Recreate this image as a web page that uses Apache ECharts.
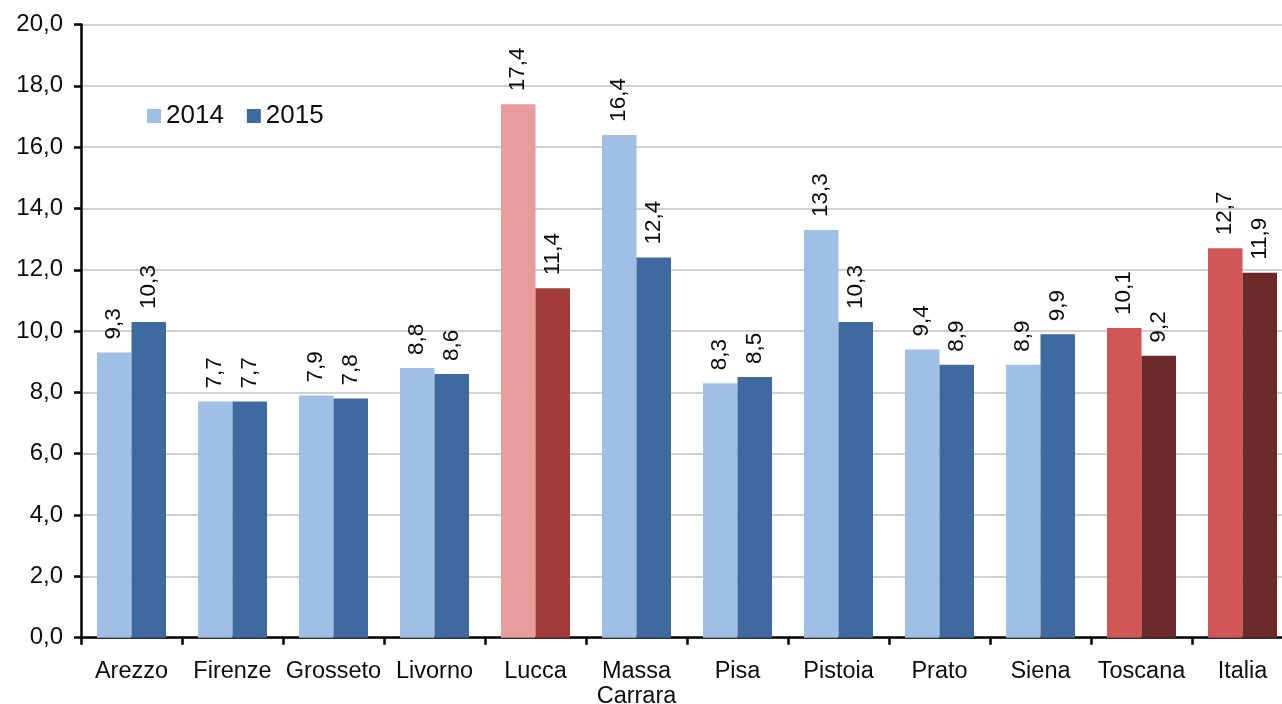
<!DOCTYPE html>
<html>
<head>
<meta charset="utf-8">
<script src="https://cdn.jsdelivr.net/npm/echarts@6/dist/echarts.min.js"></script>
<style>
html,body{margin:0;padding:0;background:#fff;overflow:hidden;}
#c{width:1310px;height:704px;}
</style>
</head>
<body>
<div id="c"></div>
<script>
const categories = ['Arezzo','Firenze','Grosseto','Livorno','Lucca','Massa\nCarrara','Pisa','Pistoia','Prato','Siena','Toscana','Italia'];
const values2014 = [9.3, 7.7, 7.9, 8.8, 17.4, 16.4, 8.3, 13.3, 9.4, 8.9, 10.1, 12.7];
const values2015 = [10.3, 7.7, 7.8, 8.6, 11.4, 12.4, 8.5, 10.3, 8.9, 9.9, 9.2, 11.9];
const seriesNames = ['2014', '2015'];
const yTicks = [0, 2, 4, 6, 8, 10, 12, 14, 16, 18, 20];

const baseColors = ['#A0BFE5', '#3E6A9F'];
const specialColors = {
  'Lucca': ['#E89C9B', '#A23C3A'],
  'Toscana': ['#D05755', '#6B292A'],
  'Italia': ['#D05755', '#6B292A']
};
const FONT = "'Liberation Sans', Arial, sans-serif";
const fmt = v => v.toFixed(1).replace('.', ',');

function buildData(vals, idx) {
  return vals.map((v, i) => {
    const c = specialColors[categories[i]];
    return c ? { value: v, itemStyle: { color: c[idx] } } : v;
  });
}

const chart = echarts.init(document.getElementById('c'), null, { renderer: 'canvas' });
const labelCfg = {
  show: true,
  position: 'top',
  rotate: 90,
  align: 'left',
  verticalAlign: 'middle',
  distance: 13,
  fontFamily: FONT,
  fontSize: 22.5,
  color: '#0d0d0d',
  formatter: p => fmt(p.value)
};
chart.setOption({
  animation: false,
  backgroundColor: '#fff',
  legend: {
    data: seriesNames,
    left: 147,
    top: 103,
    padding: 0,
    itemWidth: 14,
    itemHeight: 14,
    itemGap: 23,
    icon: 'rect',
    textStyle: { fontFamily: FONT, fontSize: 26, color: '#0d0d0d' }
  },
  grid: { left: 81, top: 24.5, width: 1212, height: 613.2, containLabel: false, outerBoundsMode: 'none' },
  xAxis: {
    type: 'category',
    data: categories,
    axisLine: { lineStyle: { color: '#000', width: 2.5 } },
    axisTick: { show: true, length: 7, lineStyle: { color: '#000', width: 2.5 } },
    axisLabel: { interval: 0, fontFamily: FONT, fontSize: 23.5, color: '#0d0d0d', margin: 21, lineHeight: 25 }
  },
  yAxis: {
    type: 'value',
    min: yTicks[0],
    max: yTicks[yTicks.length - 1],
    interval: 2,
    axisLine: { show: true, lineStyle: { color: '#000', width: 2.5 } },
    axisTick: { show: true, length: 7, lineStyle: { color: '#000', width: 2.5 } },
    splitLine: { lineStyle: { color: '#C2C2C2', width: 1.5 } },
    axisLabel: { fontFamily: FONT, fontSize: 24, color: '#0d0d0d', margin: 18, formatter: v => fmt(v) }
  },
  series: [
    {
      name: seriesNames[0], type: 'bar', barWidth: 34.5, barGap: '0%',
      itemStyle: { color: baseColors[0] },
      label: labelCfg,
      data: buildData(values2014, 0)
    },
    {
      name: seriesNames[1], type: 'bar', barWidth: 34.5, barGap: '0%',
      itemStyle: { color: baseColors[1] },
      label: labelCfg,
      data: buildData(values2015, 1)
    }
  ]
});
</script>
</body>
</html>
